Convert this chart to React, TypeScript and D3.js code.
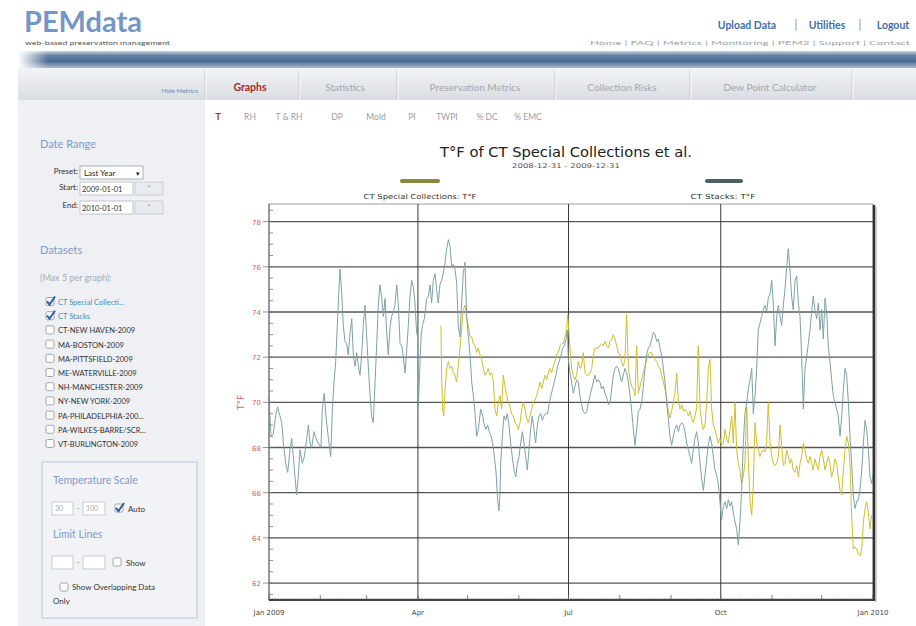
import React from 'react';
import * as d3 from 'd3';

// ---------- chart data ----------
const seriesNames = ['CT Special Collections: T°F', 'CT Stacks: T°F'];
const chartTitle = 'T°F of CT Special Collections et al.';
const chartSubtitle = '2008-12-31 - 2009-12-31';
const yAxisTitle = 'T°F';
const yTickValues = [62, 64, 66, 68, 70, 72, 74, 76, 78];
const xTickLabels = ['Jan 2009', 'Apr', 'Jul', 'Oct', 'Jan 2010'];

// [day of 2009, °F]
const specialSeries: [number, number][] = [
  [103.9,73.4],[104.3,71.2],[104.9,69.7],[105.6,69.4],[106.4,70.6],[107.4,71.5],[108.4,71.8],[109.4,71.5],[110.4,71.6],[111.4,71.3],
  [112.4,71.2],[113.4,70.9],[114.4,71.6],[115.4,72.4],[116.4,73.2],[117.4,74.1],[118.4,74.3],[119.5,73.7],[120.5,73.4],[121.5,72.9],
  [122.5,72.9],[123.5,72.6],[124.5,72.5],[125.5,72.2],[126.5,72.4],[127.5,72.1],[128.5,71.9],[129.5,71.5],[130.5,71.2],[131.5,71.3],
  [132.5,71.5],[133.6,71.2],[134.6,71.3],[135.6,70.9],[136.6,69.7],[137.6,69.4],[138.6,70.0],[139.6,70.3],[140.6,69.7],[141.6,71.2],
  [142.6,70.7],[143.6,70.3],[144.6,70.0],[145.6,69.8],[146.6,69.5],[147.6,69.4],[148.7,69.1],[149.7,69.0],[150.7,68.8],[151.7,69.1],
  [152.7,69.7],[153.7,70.0],[154.7,69.7],[155.7,69.3],[156.7,69.1],[157.7,69.4],[158.7,69.7],[159.7,70.0],[160.7,70.1],[161.8,70.3],
  [162.8,70.6],[163.8,70.9],[164.8,70.6],[165.8,70.9],[166.8,71.2],[167.8,71.0],[168.8,71.3],[169.8,71.5],[170.8,71.3],[171.8,71.6],
  [172.8,71.8],[173.8,72.1],[174.8,72.2],[175.9,72.5],[176.9,72.6],[177.9,72.6],[178.9,72.9],[179.9,73.2],[180.5,73.9],[181.0,73.4],
  [181.3,73.0],[182.1,72.2],[182.9,71.5],[183.9,71.2],[184.9,71.0],[185.9,71.2],[186.9,71.8],[187.9,71.5],[188.9,71.6],[189.9,72.2],
  [191.0,71.3],[192.0,71.2],[193.0,71.2],[194.0,71.3],[195.0,71.5],[196.0,72.1],[197.0,72.4],[198.0,72.4],[199.0,72.4],[200.0,72.5],
  [201.0,72.6],[202.0,72.5],[203.0,72.7],[204.1,72.5],[205.1,72.4],[206.1,72.7],[207.1,72.8],[208.1,73.0],[209.1,72.8],[210.1,72.5],
  [211.1,72.2],[212.1,72.1],[213.1,71.8],[214.1,71.6],[215.1,71.9],[216.1,73.9],[217.2,71.5],[218.2,71.0],[219.2,70.7],[220.2,70.6],
  [221.2,70.3],[222.2,72.5],[223.2,70.4],[224.2,70.7],[225.2,71.0],[226.2,71.3],[227.2,71.6],[228.2,71.9],[229.2,72.1],[230.2,72.2],
  [231.3,72.2],[232.3,72.0],[233.3,71.9],[234.3,71.8],[235.3,71.6],[236.3,71.5],[237.3,71.2],[238.3,70.9],[239.3,70.6],[240.3,70.2],
  [241.3,69.6],[242.3,69.3],[243.3,69.6],[244.3,70.0],[245.3,70.4],[246.4,71.3],[247.4,70.0],[248.4,69.7],[249.4,69.9],[250.4,69.6],
  [251.4,69.7],[252.4,69.6],[253.4,69.4],[254.4,69.6],[255.4,69.3],[256.4,69.1],[257.4,69.4],[258.4,69.7],[259.4,72.5],[260.5,69.7],
  [261.5,69.1],[262.5,68.8],[263.5,69.0],[264.5,70.0],[265.5,71.5],[266.5,71.9],[267.5,69.7],[268.5,69.0],[269.5,68.8],[270.5,68.5],
  [271.5,68.2],[272.5,68.4],[273.5,68.1],[274.6,68.2],[275.6,68.8],[276.6,68.4],[277.6,68.2],[278.6,68.8],[279.6,69.4],[280.6,68.2],
  [281.6,70.0],[282.6,67.9],[283.6,67.3],[284.6,67.0],[285.6,66.4],[286.6,66.7],[287.6,67.3],[288.7,69.8],[289.7,67.3],[290.7,65.6],
  [291.7,65.0],[292.7,66.4],[293.7,69.1],[294.7,68.2],[295.7,67.9],[296.7,67.6],[297.7,67.8],[298.7,67.9],[299.7,67.8],[300.7,68.2],
  [301.7,70.0],[302.8,68.2],[303.8,67.6],[304.8,67.3],[305.8,67.2],[306.8,67.3],[307.8,67.6],[308.8,69.0],[309.8,68.1],[310.8,67.2],
  [311.8,67.3],[312.8,67.9],[313.8,67.6],[314.8,67.3],[315.8,67.5],[316.8,67.0],[317.9,66.9],[318.9,67.2],[319.9,66.7],[320.9,67.3],
  [321.9,67.6],[322.9,68.2],[323.9,67.9],[324.9,67.5],[325.9,67.3],[326.9,67.6],[327.9,67.3],[328.9,67.0],[329.9,67.5],[331.0,67.2],
  [332.0,67.0],[333.0,67.6],[334.0,67.9],[335.0,67.5],[336.0,67.0],[337.0,67.3],[338.0,67.6],[339.0,67.3],[340.0,66.7],[341.0,67.0],
  [342.0,67.5],[343.0,67.3],[344.0,66.7],[345.1,66.1],[346.1,65.9],[347.1,67.0],[348.1,67.9],[349.1,68.5],[350.1,68.2],[351.1,67.3],
  [352.1,65.0],[353.1,63.5],[354.1,63.6],[355.1,63.5],[356.1,63.3],[357.1,63.2],[358.2,63.5],[359.2,64.7],[360.2,65.3],[361.2,65.6],
  [362.2,65.1],[363.2,64.4],[364.2,65.0],
];

const stacksSeries: [number, number][] = [
  [0,70.2],[1.2,68.5],[2.6,68.6],[4.0,69.4],[5.2,69.8],[6.6,69.4],[7.7,69.1],[8.7,68.2],[10.1,67.3],[11.3,66.9],
  [12.7,67.9],[13.7,68.4],[14.7,67.6],[15.7,66.7],[16.7,65.9],[17.7,66.7],[18.7,67.9],[20.1,67.3],[21.4,67.6],[22.8,68.4],
  [23.8,69.0],[24.8,68.2],[25.8,68.0],[27.2,68.7],[28.4,68.4],[29.8,68.2],[31.4,68.0],[32.2,69.7],[33.4,70.4],[34.4,69.4],
  [35.9,68.4],[37.3,67.6],[38.3,69.7],[39.3,70.9],[40.3,71.8],[41.5,73.8],[42.9,75.9],[43.9,74.9],[44.9,73.4],[45.9,72.7],
  [46.9,72.6],[47.9,72.1],[48.9,73.0],[50.0,73.7],[51.0,72.0],[52.0,71.6],[53.0,72.2],[54.0,71.6],[55.0,71.2],[56.0,72.1],
  [57.0,73.4],[58.0,74.3],[59.0,73.0],[60.0,71.6],[61.0,70.4],[62.0,69.4],[63.0,69.1],[64.1,70.9],[65.1,72.6],[66.1,74.4],
  [67.1,75.2],[68.1,74.6],[69.1,73.8],[70.1,74.6],[71.1,73.1],[72.1,72.1],[73.1,73.3],[74.1,73.8],[75.1,74.0],[76.1,74.3],
  [77.2,75.2],[78.2,74.3],[79.2,72.6],[80.2,72.5],[81.2,72.0],[82.2,71.3],[83.2,72.3],[84.2,73.4],[85.2,74.7],[86.2,75.4],
  [87.2,75.1],[88.2,74.4],[89.2,73.1],[89.8,72.9],[90.2,69.8],[91.9,72.9],[92.7,73.4],[93.9,73.7],[95.3,74.6],[96.3,74.7],
  [97.3,75.2],[98.3,74.4],[99.3,75.4],[100.3,75.7],[101.3,75.0],[102.3,74.4],[103.3,75.2],[104.3,75.4],[105.3,75.7],[106.4,76.2],
  [107.4,76.8],[108.4,77.2],[109.4,76.9],[110.4,76.0],[111.4,76.1],[112.4,75.9],[113.4,75.3],[114.4,73.4],[115.4,72.9],[116.4,74.4],
  [117.4,75.7],[118.4,76.2],[119.5,73.8],[120.5,72.9],[121.5,72.1],[122.5,70.9],[123.5,70.3],[124.5,69.5],[125.5,68.5],[126.5,68.8],
  [127.9,69.7],[129.1,69.4],[130.1,69.0],[131.1,68.8],[132.1,69.0],[133.1,68.7],[134.2,68.5],[135.2,68.2],[136.2,67.6],[137.2,66.9],
  [138.2,65.6],[139.0,65.2],[139.6,66.0],[140.0,67.3],[141.0,68.5],[142.0,69.4],[143.0,69.2],[144.0,69.5],[145.0,69.0],[146.0,68.2],
  [147.0,67.6],[148.1,67.0],[149.1,66.7],[150.1,67.3],[151.1,67.6],[152.1,68.2],[153.1,68.7],[154.1,68.2],[155.1,67.6],[156.1,67.0],
  [157.1,67.9],[158.1,68.8],[159.1,69.4],[160.1,68.8],[161.1,68.2],[162.2,69.0],[163.2,69.4],[164.2,69.5],[165.2,69.2],[166.2,69.4],
  [167.2,69.5],[168.4,69.5],[169.4,70.0],[170.4,70.3],[171.4,70.6],[172.4,70.9],[173.4,71.2],[174.4,71.6],[175.4,71.8],[176.5,72.1],
  [177.5,72.4],[178.5,72.5],[179.5,72.8],[180.3,73.2],[180.9,71.9],[181.9,71.3],[182.9,70.9],[183.9,70.4],[184.9,70.7],[185.9,71.0],
  [186.9,70.9],[187.9,70.3],[188.9,69.9],[189.9,69.6],[191.0,69.5],[192.0,69.6],[193.0,70.0],[194.0,70.3],[195.0,70.6],[196.0,70.9],
  [197.0,71.2],[198.0,70.9],[199.0,71.0],[200.0,70.9],[201.0,70.6],[202.0,70.7],[203.0,70.4],[204.1,70.2],[205.1,69.9],[206.1,70.0],
  [207.1,70.6],[208.1,71.2],[209.1,71.5],[210.1,71.6],[211.1,71.5],[212.1,71.2],[213.1,70.9],[214.1,71.2],[215.1,71.5],[216.1,71.3],
  [217.2,70.9],[218.2,70.3],[219.2,69.6],[220.2,68.8],[221.2,68.1],[222.2,68.8],[223.2,69.6],[224.2,69.7],[225.2,70.0],[226.2,70.7],
  [227.2,71.5],[228.2,72.1],[229.2,72.4],[230.2,72.5],[231.3,72.8],[232.3,73.1],[233.3,73.0],[234.3,72.7],[235.3,72.8],[236.3,72.4],
  [237.3,72.1],[238.3,71.5],[239.3,70.9],[240.3,70.0],[241.3,69.3],[242.3,68.5],[243.3,68.1],[244.3,68.5],[245.3,68.8],[246.4,69.0],
  [247.4,68.7],[248.4,69.0],[249.4,69.1],[250.4,69.0],[251.4,68.7],[252.4,68.2],[253.4,67.9],[254.4,67.6],[255.4,67.3],[256.4,67.9],
  [257.4,68.4],[258.4,68.7],[259.4,68.2],[260.5,67.3],[261.5,66.6],[262.5,66.1],[263.5,66.8],[264.5,67.5],[265.5,68.1],[266.5,68.5],
  [267.5,68.2],[268.5,67.6],[269.5,67.0],[270.5,66.8],[271.5,66.4],[273.5,64.8],[274.6,65.4],[275.6,65.6],[276.6,65.3],[277.6,65.7],
  [278.6,65.4],[279.6,65.6],[280.6,65.1],[281.6,64.7],[282.6,64.4],[283.6,63.7],[284.6,64.7],[285.6,66.1],[286.6,68.1],[287.6,69.5],
  [288.7,70.0],[289.7,70.6],[290.7,71.0],[291.7,71.5],[292.7,69.5],[293.7,70.3],[294.7,71.5],[295.7,73.2],[296.7,73.5],[297.7,73.8],
  [298.7,74.1],[299.7,74.3],[300.7,74.0],[301.7,74.6],[302.8,74.8],[303.8,75.4],[304.8,74.3],[305.8,72.5],[306.8,73.8],[307.8,74.3],
  [308.8,73.8],[309.8,73.4],[310.8,74.3],[311.8,75.0],[312.8,75.9],[313.8,76.8],[314.8,75.9],[315.8,74.7],[316.8,74.1],[317.9,75.4],
  [318.9,75.6],[319.9,74.4],[320.9,73.8],[321.9,72.0],[322.9,69.7],[323.9,71.5],[324.9,72.0],[325.9,72.6],[326.9,73.2],[327.9,74.0],
  [328.9,74.7],[329.9,74.1],[331.0,73.7],[332.0,74.4],[333.0,73.2],[334.0,74.1],[335.0,72.8],[336.0,74.6],[337.0,74.0],[338.0,72.5],
  [339.0,71.8],[340.0,71.0],[341.0,70.3],[342.0,70.0],[343.0,69.7],[344.0,69.4],[345.1,68.5],[346.1,69.4],[347.1,70.6],[348.1,71.5],
  [349.1,71.2],[350.1,70.0],[351.1,68.5],[352.1,67.3],[353.1,65.9],[354.1,65.3],[355.1,65.6],[356.1,65.7],[357.1,66.1],[358.2,67.0],
  [359.2,68.2],[360.2,69.2],[361.2,68.8],[362.2,67.9],[363.2,66.7],[364.2,66.4],[365.0,66.8],
];

// ---------- page text ----------
const topLinks = ['Upload Data', 'Utilities', 'Logout'];
const subLinks = 'Home  |  FAQ  |  Metrics  |  Monitoring  |  PEM2  |  Support  |  Contact';
const mainTabs = ['Graphs', 'Statistics', 'Preservation Metrics', 'Collection Risks', 'Dew Point Calculator'];
const subTabs = ['T', 'RH', 'T & RH', 'DP', 'Mold', 'PI', 'TWPI', '% DC', '% EMC'];
const datasetNames = [
  'CT Special Collecti...', 'CT Stacks', 'CT-NEW HAVEN-2009', 'MA-BOSTON-2009', 'MA-PITTSFIELD-2009',
  'ME-WATERVILLE-2009', 'NH-MANCHESTER-2009', 'NY-NEW YORK-2009', 'PA-PHILADELPHIA-200...',
  'PA-WILKES-BARRE/SCR...', 'VT-BURLINGTON-2009',
];
const datasetChecked = [true, true, false, false, false, false, false, false, false, false, false];

// ---------- layout ----------
const W = 916, H = 626;
const PL = 269, PR = 873, PT = 204, PB = 600;
const UI = 'Lato, "Open Sans", sans-serif';
const CF = '"DejaVu Sans", sans-serif';
const mainTabX = [250, 345, 475, 622, 770];
const tabSepX = [205, 299, 397, 555, 690, 852];
const subTabX = [218, 250, 289, 337, 376, 412, 447, 487, 528];
const topLinkX = [747, 827, 893];
const RED = '#d9605c';

const dayToDate = (d: number) => new Date(Date.UTC(2009, 0, 1) + d * 864e5);

function CheckBox({ x, y, checked }: { x: number; y: number; checked: boolean }) {
  return (
    <g>
      <rect x={x} y={y} width={8} height={8} rx={1.5} fill="#fff" stroke="#8a8f96" strokeWidth={0.8} />
      {checked && (
        <path d={`M${x + 1} ${y + 4} L${x + 3.5} ${y + 7} L${x + 9} ${y - 1}`} fill="none" stroke="#2c5ea6" strokeWidth={2} />
      )}
    </g>
  );
}

export default function App() {
  const x = d3.scaleUtc().domain([new Date(Date.UTC(2009, 0, 1)), new Date(Date.UTC(2010, 0, 1))]).range([PL, PR]);
  const y = d3.scaleLinear().domain([61.25, 78.78]).range([PB, PT]);
  const line = d3.line<[number, number]>().x(d => x(dayToDate(d[0]))).y(d => y(d[1]));
  const quarterTicks = x.ticks(d3.utcMonth.every(3) as any);
  const monthTicks = d3.utcMonth.range(new Date(Date.UTC(2009, 0, 1)), new Date(Date.UTC(2010, 0, 2)));
  const dayTicks = d3.utcDay.range(new Date(Date.UTC(2009, 0, 1)), new Date(Date.UTC(2010, 0, 1)));
  const minorY = d3.range(61.5, 78.75, 0.5);

  return (
    <svg width={W} height={H} style={{ position: 'absolute', left: 0, top: 0 }} fontFamily={UI}>
      <defs>
        <linearGradient id="band" x1="0" y1="0" x2="0" y2="1">
          <stop offset="0" stopColor="#cdd6e0" />
          <stop offset="0.25" stopColor="#6683a6" />
          <stop offset="0.6" stopColor="#4b6a8f" />
          <stop offset="1" stopColor="#a9b9ca" />
        </linearGradient>
        <linearGradient id="tabs" x1="0" y1="0" x2="0" y2="1">
          <stop offset="0" stopColor="#f3f4f6" />
          <stop offset="1" stopColor="#d9dde2" />
        </linearGradient>
        <linearGradient id="bandFade" x1="0" y1="0" x2="1" y2="0">
          <stop offset="0" stopColor="#fff" stopOpacity="1" />
          <stop offset="1" stopColor="#fff" stopOpacity="0" />
        </linearGradient>
      </defs>
      <rect x={0} y={0} width={W} height={H} fill="#fff" />

      {/* header */}
      <text x={24} y={32} fontSize={28} fill="#7596c8" fontWeight={700} textLength={118} lengthAdjust="spacingAndGlyphs">PEMdata</text>
      <text x={25} y={44.5} fontSize={6} fill="#555" textLength={145} lengthAdjust="spacingAndGlyphs">web-based preservation management</text>
      {topLinks.map((t, i) => (
        <text key={t} x={topLinkX[i]} y={29} fontSize={10.5} fontWeight={700} fill="#3f6eaa" textAnchor="middle">{t}</text>
      ))}
      {[796, 860].map(px => <line key={px} x1={px} x2={px} y1={19} y2={31} stroke="#8aa0bd" />)}
      <text x={910} y={45} fontSize={6.5} fill="#a0a4aa" textAnchor="end" textLength={320} lengthAdjust="spacingAndGlyphs">{subLinks}</text>

      <rect x={18} y={51} width={W - 18} height={17} fill="url(#band)" />
      <rect x={18} y={51} width={30} height={17} fill="url(#bandFade)" />
      <rect x={18} y={68} width={W - 18} height={32} fill="url(#tabs)" />
      {tabSepX.map(px => (
        <g key={px}>
          <line x1={px} x2={px} y1={70} y2={100} stroke="#c5c9ce" />
          <line x1={px + 1} x2={px + 1} y1={70} y2={100} stroke="#fbfbfb" />
        </g>
      ))}
      <text x={198} y={93} fontSize={6.5} fill="#6a8cc0" textAnchor="end">Hide Metrics</text>
      {mainTabs.map((t, i) => (
        <text key={t} x={mainTabX[i]} y={91} fontSize={i === 0 ? 10.5 : 10} textAnchor="middle"
          fontWeight={i === 0 ? 700 : 400} fill={i === 0 ? '#a5282a' : '#a3a7ad'}>{t}</text>
      ))}

      {/* sidebar */}
      <rect x={18} y={100} width={187} height={H - 100} fill="#eef0f4" />
      {subTabs.map((t, i) => (
        <text key={t} x={subTabX[i]} y={120} fontSize={i === 0 ? 9.5 : 8.5} textAnchor="middle"
          fontWeight={i === 0 ? 700 : 400} fill={i === 0 ? '#b0302c' : '#9a9ea5'}>{t}</text>
      ))}

      <text x={40} y={148} fontSize={11} fill="#7d9bcb">Date Range</text>
      <text x={78} y={174} fontSize={8} fill="#333" textAnchor="end">Preset:</text>
      <rect x={80} y={166} width={63} height={13} fill="#fff" stroke="#9aa0a8" strokeWidth={0.8} />
      <text x={84} y={176} fontSize={8} fill="#222">Last Year</text>
      <text x={136} y={176} fontSize={7} fill="#222">▾</text>
      <text x={78} y={190} fontSize={8} fill="#333" textAnchor="end">Start:</text>
      <rect x={80} y={182} width={53} height={13} fill="#fff" stroke="#b5bbc3" strokeWidth={0.8} />
      <text x={82} y={192} fontSize={7.5} fill="#333">2009-01-01</text>
      <rect x={135} y={182} width={28} height={13} fill="#e8ebef" stroke="#c3c8cf" strokeWidth={0.8} />
      <text x={149} y={191} fontSize={7} fill="#999" textAnchor="middle">*</text>
      <text x={78} y={208} fontSize={8} fill="#333" textAnchor="end">End:</text>
      <rect x={80} y={201} width={53} height={13} fill="#fff" stroke="#b5bbc3" strokeWidth={0.8} />
      <text x={82} y={211} fontSize={7.5} fill="#333">2010-01-01</text>
      <rect x={135} y={201} width={28} height={13} fill="#e8ebef" stroke="#c3c8cf" strokeWidth={0.8} />
      <text x={149} y={210} fontSize={7} fill="#999" textAnchor="middle">*</text>

      <text x={40} y={254} fontSize={11} fill="#7d9bcb">Datasets</text>
      <text x={40} y={281} fontSize={9} fill="#a8abb0">(Max 5 per graph):</text>
      {datasetNames.map((n, i) => {
        const cy = 302 + i * 14.2;
        return (
          <g key={n}>
            <CheckBox x={46} y={cy - 4.5} checked={datasetChecked[i]} />
            <text x={58} y={cy + 3} fontSize={7.5} fill={datasetChecked[i] ? '#4c8fb0' : '#333'}>{n}</text>
          </g>
        );
      })}

      <rect x={42} y={462} width={155} height={156} fill="#f1f3f6" stroke="#b9c8da" strokeWidth={1} />
      <text x={53} y={484} fontSize={10.5} fill="#7d9bcb">Temperature Scale</text>
      <rect x={52} y={502} width={21} height={13} fill="#fff" stroke="#b9c0c8" strokeWidth={0.8} />
      <text x={55} y={511} fontSize={7} fill="#aaa">30</text>
      <text x={78} y={511} fontSize={7} fill="#777" textAnchor="middle">-</text>
      <rect x={83} y={502} width={22} height={13} fill="#fff" stroke="#b9c0c8" strokeWidth={0.8} />
      <text x={86} y={511} fontSize={7} fill="#aaa">100</text>
      <CheckBox x={115} y={504} checked={true} />
      <text x={128} y={512} fontSize={8} fill="#333">Auto</text>
      <text x={53} y={538} fontSize={10.5} fill="#7d9bcb">Limit Lines</text>
      <rect x={52} y={556} width={21} height={13} fill="#fff" stroke="#b9c0c8" strokeWidth={0.8} />
      <text x={78} y={565} fontSize={7} fill="#777" textAnchor="middle">-</text>
      <rect x={83} y={556} width={22} height={13} fill="#fff" stroke="#b9c0c8" strokeWidth={0.8} />
      <CheckBox x={113} y={558} checked={false} />
      <text x={126} y={566} fontSize={8} fill="#333">Show</text>
      <CheckBox x={60} y={583} checked={false} />
      <text x={72} y={590} fontSize={8} fill="#333">Show Overlapping Data</text>
      <text x={53} y={604} fontSize={8} fill="#333">Only</text>

      {/* chart */}
      <text x={(PL + PR) / 2 - 5} y={157} fontFamily={CF} fontSize={14} fill="#222" textAnchor="middle"
        textLength={252} lengthAdjust="spacingAndGlyphs">{chartTitle}</text>
      <text x={(PL + PR) / 2 - 5} y={168} fontFamily={CF} fontSize={6.5} fill="#555" textAnchor="middle"
        textLength={108} lengthAdjust="spacingAndGlyphs">{chartSubtitle}</text>
      <rect x={400} y={179} width={40} height={4} rx={2} fill="#8b893e" />
      <rect x={705} y={179} width={38} height={4} rx={2} fill="#4d6163" />
      <text x={420} y={199} fontFamily={CF} fontSize={7} fill="#333" textAnchor="middle"
        textLength={113} lengthAdjust="spacingAndGlyphs">{seriesNames[0]}</text>
      <text x={723} y={199} fontFamily={CF} fontSize={7} fill="#333" textAnchor="middle"
        textLength={65} lengthAdjust="spacingAndGlyphs">{seriesNames[1]}</text>

      <rect x={PL} y={PT} width={PR - PL} height={PB - PT} fill="#fff" stroke="#9a9a9a" strokeWidth={1} />
      {yTickValues.map(v => (
        <g key={v}>
          <line x1={PL} x2={PR} y1={y(v)} y2={y(v)} stroke="#555" strokeWidth={1.3} />
          <line x1={PL - 6} x2={PL} y1={y(v)} y2={y(v)} stroke="#777" strokeWidth={0.8} />
          <text x={PL - 8} y={y(v) + 3} fontFamily={CF} fontSize={7} fill={RED} textAnchor="end">{v}</text>
        </g>
      ))}
      {minorY.map(v => (
        <line key={v} x1={PL} x2={PL + 4} y1={y(v)} y2={y(v)} stroke="#777" strokeWidth={0.8} />
      ))}
      {quarterTicks.slice(1, -1).map(d => (
        <line key={+d} x1={x(d)} x2={x(d)} y1={PT} y2={PB} stroke="#3a3a3a" strokeWidth={1} />
      ))}
      <path d={line(specialSeries) || ''} fill="none" stroke="#cfbf2c" strokeWidth={1} strokeLinejoin="round" />
      <path d={line(stacksSeries) || ''} fill="none" stroke="#7ea2a6" strokeWidth={1} strokeLinejoin="round" />

      {dayTicks.map(d => (
        <line key={+d} x1={x(d)} x2={x(d)} y1={PB - 2} y2={PB} stroke="#777" strokeWidth={0.6} />
      ))}
      {monthTicks.map(d => (
        <line key={+d} x1={x(d)} x2={x(d)} y1={PB - 5} y2={PB} stroke="#666" strokeWidth={0.8} />
      ))}
      <line x1={PL} x2={PR + 2} y1={PB} y2={PB} stroke="#444" strokeWidth={1.8} />
      <line x1={PR + 1} x2={PR + 1} y1={PT + 1} y2={PB + 1} stroke="#333" strokeWidth={2.5} />
      <line x1={PR + 3} x2={PR + 3} y1={PT + 3} y2={PB + 2} stroke="#bbb" strokeWidth={1.5} />
      <line x1={PL} x2={PL} y1={PT} y2={PB} stroke="#666" strokeWidth={1} />
      {quarterTicks.map((d, i) => (
        <text key={+d} x={x(d)} y={615} fontFamily={CF} fontSize={7} fill="#444" textAnchor="middle">{xTickLabels[i]}</text>
      ))}
      <text transform={`translate(244, ${y(70)}) rotate(-90)`} fontFamily={CF} fontSize={9} fill={RED} textAnchor="middle">{yAxisTitle}</text>
    </svg>
  );
}
